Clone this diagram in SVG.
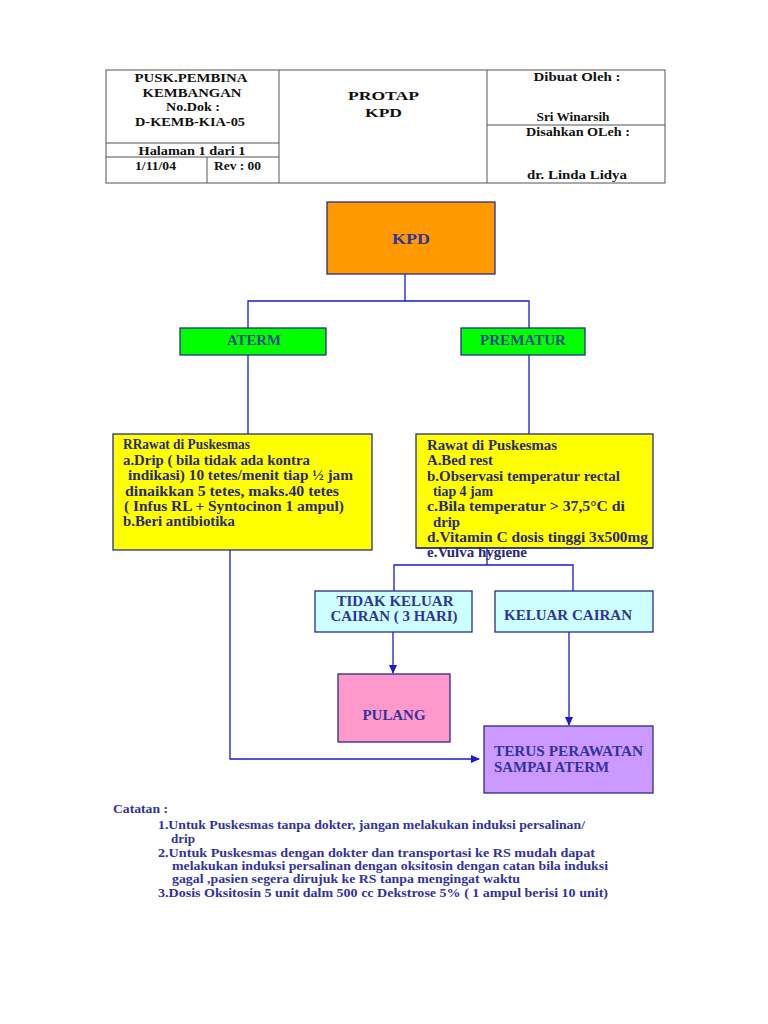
<svg xmlns="http://www.w3.org/2000/svg" width="768" height="1024" viewBox="0 0 768 1024">
<defs>
<marker id="ah" markerWidth="9" markerHeight="8" refX="8" refY="4" orient="auto" markerUnits="userSpaceOnUse">
<path d="M0,0 L9,4 L0,8 z" fill="#1a1ad6"/>
</marker>
</defs>
<style>
text{font-family:"Liberation Serif","Times New Roman",serif;font-weight:bold}
.hd{font-size:13.5px;fill:#111}
.tb{fill:none;stroke:#555;stroke-width:1}
.node{stroke:#2b2b8c;stroke-width:1.3}
.ln{fill:none;stroke:#1a1ad6;stroke-width:1.3}
.nt{fill:#333399;font-size:14px}
.gt{fill:#2a4a8a;font-size:14px}
.yt{font-size:14px;fill:#2b2b6e}
.ct{font-size:13.5px;fill:#333399}
</style>
<rect width="768" height="1024" fill="#fff"/>
<g id="header">
<rect class="tb" x="106" y="70" width="559" height="113"/>
<line class="tb" x1="279" y1="70" x2="279" y2="183"/>
<line class="tb" x1="487" y1="70" x2="487" y2="183"/>
<line class="tb" x1="106" y1="143" x2="279" y2="143" stroke-width="1.8"/>
<line class="tb" x1="106" y1="157" x2="279" y2="157"/>
<line class="tb" x1="207" y1="157" x2="207" y2="183"/>
<line class="tb" x1="487" y1="125" x2="665" y2="125"/>
<text class="hd" x="191" y="82" text-anchor="middle" textLength="113" lengthAdjust="spacingAndGlyphs">PUSK.PEMBINA</text>
<text class="hd" x="192" y="97" text-anchor="middle" textLength="99" lengthAdjust="spacingAndGlyphs">KEMBANGAN</text>
<text class="hd" x="193" y="111" text-anchor="middle" textLength="54" lengthAdjust="spacingAndGlyphs">No.Dok :</text>
<text class="hd" x="190" y="126" text-anchor="middle" textLength="110" lengthAdjust="spacingAndGlyphs">D-KEMB-KIA-05</text>
<text class="hd" x="192" y="155" text-anchor="middle" textLength="107" lengthAdjust="spacingAndGlyphs">Halaman 1 dari  1</text>
<text class="hd" x="135" y="170" textLength="41" lengthAdjust="spacingAndGlyphs">1/11/04</text>
<text class="hd" x="214" y="170" textLength="47" lengthAdjust="spacingAndGlyphs">Rev : 00</text>
<text class="hd" x="383.5" y="100" text-anchor="middle" font-size="16" textLength="71" lengthAdjust="spacingAndGlyphs">PROTAP</text>
<text class="hd" x="383.5" y="117" text-anchor="middle" font-size="16" textLength="37" lengthAdjust="spacingAndGlyphs">KPD</text>
<text class="hd" x="577" y="81" text-anchor="middle" textLength="87" lengthAdjust="spacingAndGlyphs">Dibuat Oleh  :</text>
<text class="hd" x="573" y="121" text-anchor="middle" font-size="13" textLength="73" lengthAdjust="spacingAndGlyphs">Sri Winarsih</text>
<text class="hd" x="578" y="136" text-anchor="middle" font-size="13" textLength="104" lengthAdjust="spacingAndGlyphs">Disahkan OLeh :</text>
<text class="hd" x="577" y="179" text-anchor="middle" textLength="100" lengthAdjust="spacingAndGlyphs">dr. Linda Lidya</text>
</g>
<g id="connectors">
<polyline class="ln" points="405,274 405,301"/>
<polyline class="ln" points="248,328 248,301 529,301 529,328"/>
<line class="ln" x1="248" y1="355" x2="248" y2="434"/>
<line class="ln" x1="529" y1="355" x2="529" y2="434"/>
<polyline class="ln" points="487,548 487,565"/>
<polyline class="ln" points="394,591 394,565 573,565 573,591"/>
<line class="ln" x1="393" y1="632" x2="393" y2="673" marker-end="url(#ah)"/>
<line class="ln" x1="569" y1="632" x2="569" y2="725" marker-end="url(#ah)"/>
<polyline class="ln" points="230,550 230,759 479,759" marker-end="url(#ah)"/>
</g>
<g id="kpd">
<rect class="node" x="327" y="202" width="168" height="72" fill="#ff9900"/>
<text class="nt" x="411" y="244" text-anchor="middle" font-size="17.5" textLength="38" lengthAdjust="spacingAndGlyphs">KPD</text>
</g>
<g id="aterm">
<rect class="node" x="180" y="328" width="146" height="27" fill="#00ff00"/>
<text class="gt" x="254" y="345" text-anchor="middle" textLength="54" lengthAdjust="spacingAndGlyphs">ATERM</text>
</g>
<g id="prematur">
<rect class="node" x="461" y="328" width="124" height="27" fill="#00ff00"/>
<text class="gt" x="523" y="345" text-anchor="middle" textLength="86" lengthAdjust="spacingAndGlyphs">PREMATUR</text>
</g>
<g id="rawat-aterm">
<rect class="node" x="113" y="434" width="259" height="116" fill="#ffff00"/>
<text class="yt" x="123" y="449" textLength="127" lengthAdjust="spacingAndGlyphs">RRawat di Puskesmas</text>
<text class="yt" x="123" y="465" textLength="187" lengthAdjust="spacingAndGlyphs">a.Drip ( bila tidak ada kontra</text>
<text class="yt" x="128" y="480" textLength="225" lengthAdjust="spacingAndGlyphs">indikasi) 10 tetes/menit tiap ½ jam</text>
<text class="yt" x="125" y="496" textLength="214" lengthAdjust="spacingAndGlyphs">dinaikkan 5 tetes, maks.40 tetes</text>
<text class="yt" x="124" y="511" textLength="220" lengthAdjust="spacingAndGlyphs">( Infus RL + Syntocinon 1 ampul)</text>
<text class="yt" x="123" y="526" textLength="112" lengthAdjust="spacingAndGlyphs">b.Beri antibiotika</text>
</g>
<g id="rawat-prematur">
<rect class="node" x="416" y="434" width="237" height="114" fill="#ffff00"/>
<text class="yt" x="427" y="450" textLength="130" lengthAdjust="spacingAndGlyphs">Rawat di Puskesmas</text>
<text class="yt" x="427" y="465" textLength="66" lengthAdjust="spacingAndGlyphs">A.Bed rest</text>
<text class="yt" x="427" y="481" textLength="193" lengthAdjust="spacingAndGlyphs">b.Observasi temperatur rectal</text>
<text class="yt" x="433" y="496" textLength="60" lengthAdjust="spacingAndGlyphs">tiap 4 jam</text>
<text class="yt" x="427" y="511" textLength="198" lengthAdjust="spacingAndGlyphs">c.Bila temperatur &gt; 37,5°C di</text>
<text class="yt" x="433" y="527" textLength="27" lengthAdjust="spacingAndGlyphs">drip</text>
<text class="yt" x="427" y="542" textLength="221" lengthAdjust="spacingAndGlyphs">d.Vitamin C dosis tinggi 3x500mg</text>
<text class="yt" x="427" y="557" fill="#2b2bb0" textLength="100" lengthAdjust="spacingAndGlyphs">e.Vulva hygiene</text>
<line x1="416" y1="548" x2="653" y2="548" stroke="#2b2b8c" stroke-width="1.3"/>
</g>
<g id="tidak-keluar">
<rect class="node" x="315" y="591" width="157" height="41" fill="#ccffff"/>
<text class="nt" x="395" y="606" text-anchor="middle" textLength="117" lengthAdjust="spacingAndGlyphs">TIDAK KELUAR</text>
<text class="nt" x="394" y="621" text-anchor="middle" textLength="127" lengthAdjust="spacingAndGlyphs">CAIRAN ( 3 HARI)</text>
</g>
<g id="keluar">
<rect class="node" x="495" y="591" width="158" height="41" fill="#ccffff"/>
<text class="nt" x="568" y="620" text-anchor="middle" textLength="128" lengthAdjust="spacingAndGlyphs">KELUAR CAIRAN</text>
</g>
<g id="pulang">
<rect class="node" x="338" y="674" width="112" height="68" fill="#ff99cc"/>
<text class="nt" x="394" y="720" text-anchor="middle" textLength="63" lengthAdjust="spacingAndGlyphs">PULANG</text>
</g>
<g id="terus">
<rect class="node" x="484" y="726" width="169" height="67" fill="#cc99ff"/>
<text class="nt" x="494" y="756" textLength="149" lengthAdjust="spacingAndGlyphs">TERUS  PERAWATAN</text>
<text class="nt" x="494" y="772" textLength="115" lengthAdjust="spacingAndGlyphs">SAMPAI ATERM</text>
</g>
<g id="catatan">
<text class="ct" x="113" y="813" textLength="55" lengthAdjust="spacingAndGlyphs">Catatan :</text>
<text class="ct" x="158" y="829" textLength="427" lengthAdjust="spacingAndGlyphs">1.Untuk Puskesmas tanpa dokter, jangan melakukan induksi persalinan/</text>
<text class="ct" x="171" y="843" textLength="24" lengthAdjust="spacingAndGlyphs">drip</text>
<text class="ct" x="158" y="857" textLength="437" lengthAdjust="spacingAndGlyphs">2.Untuk Puskesmas dengan dokter dan transportasi ke RS mudah dapat</text>
<text class="ct" x="172" y="870" textLength="436" lengthAdjust="spacingAndGlyphs">melakukan induksi persalinan dengan oksitosin dengan catan bila induksi</text>
<text class="ct" x="172" y="883" textLength="348" lengthAdjust="spacingAndGlyphs">gagal ,pasien segera dirujuk ke RS tanpa mengingat waktu</text>
<text class="ct" x="158" y="897" textLength="450" lengthAdjust="spacingAndGlyphs">3.Dosis Oksitosin 5 unit dalm 500 cc Dekstrose 5% ( 1 ampul berisi 10 unit)</text>
</g>
</svg>
